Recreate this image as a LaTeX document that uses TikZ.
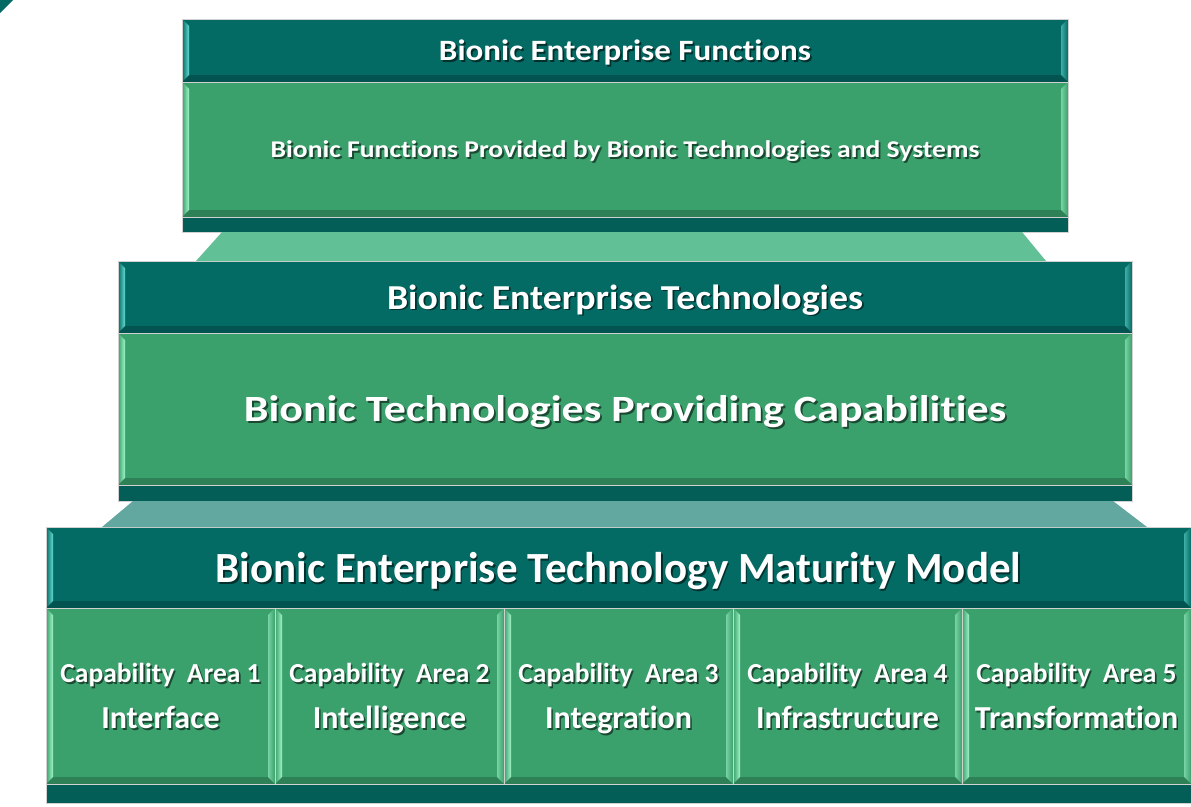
\documentclass[tikz,border=0pt]{standalone}
\usepackage{fontspec}
\usepackage{graphicx}
\setmainfont{Carlito}[Ligatures=NoCommon]
\usetikzlibrary{calc}
\usetikzlibrary{positioning}

\definecolor{tealhd}{RGB}{4,106,100}
\definecolor{tealbd}{RGB}{3,94,88}
\definecolor{greenbd}{RGB}{58,160,108}
\definecolor{mintlt}{RGB}{160,245,200}
\definecolor{cyanlt}{RGB}{100,220,210}
\definecolor{linkA}{RGB}{98,192,151}
\definecolor{linkB}{RGB}{99,168,160}

% white text with a dark copy behind it, optionally widened
\newcommand{\sh}[3][1]{\scalebox{#1}[1]{\leavevmode\rlap{\kern1.6pt\raisebox{-1.6pt}{\color{#2}#3}}#3}}

\tikzset{
  block/.style={anchor=north west, inner sep=0, outer sep=0, draw=black!18, line width=.8,
    text=white, font=\bfseries, align=center, text depth=0pt},
  bevel/.style 2 args={path picture={
    \coordinate (bl) at (path picture bounding box.south west);
    \coordinate (tr) at (path picture bounding box.north east);
    \shade[left color=#1, right color=#2] (bl|-tr) -- ($(bl|-tr)+(7pt,-7pt)$) -- ($(bl)+(7pt,7pt)$) -- (bl) -- cycle;
    \shade[left color=#2, right color=#1, opacity=.6] ($(tr)+(-7pt,-7pt)$) -- (tr) -- (bl-|tr) -- ($(bl-|tr)+(-7pt,7pt)$) -- cycle;
    \fill[black, opacity=.2] (bl) -- ($(bl)+(7pt,7pt)$) -- ($(bl-|tr)+(-7pt,7pt)$) -- (bl-|tr) -- cycle;
  }},
  head/.style={block, fill=tealhd, bevel={tealhd}{cyanlt}},
  body/.style={block, fill=greenbd, bevel={greenbd}{mintlt}},
  band/.style={block, fill=tealbd},
}

\begin{document}
\begin{tikzpicture}[x=1pt, y=-1pt]
\useasboundingbox (0,0) rectangle (1191,806);
\fill[tealhd] (0,0) -- (13,0) -- (0,13) -- cycle;

% functions
\node[head, minimum width=886, minimum height=63] (fnhead) at (182,19)
  {\fontsize{29.5}{35}\selectfont\sh[1.12]{tealhd!45!black}{Bionic Enterprise Functions}};
\node[body, minimum width=886, minimum height=135] (fnbody) at (182,82)
  {\fontsize{24}{29}\selectfont\sh[1.15]{greenbd!45!black}{Bionic Functions Provided by Bionic Technologies and Systems}};
\node[band, minimum width=886, minimum height=15] (fnband) at (182,217) {};

% technologies
\node[head, minimum width=1014, minimum height=72] (tchead) at (118,261)
  {\fontsize{35}{42}\selectfont\sh[1.08]{tealhd!45!black}{Bionic Enterprise Technologies}};
\node[body, minimum width=1014, minimum height=152] (tcbody) at (118,333)
  {\fontsize{37}{44}\selectfont\sh[1.19]{greenbd!45!black}{Bionic Technologies Providing Capabilities}};
\node[band, minimum width=1014, minimum height=16] (tcband) at (118,485) {};

\fill[linkA] ($(fnband.south west)+(40,0)$) -- ($(fnband.south east)+(-46,0)$)
  -- ($(tchead.north east)+(-86,0)$) -- ($(tchead.north west)+(78,0)$) -- cycle;

% maturity model
\node[head, minimum width=1145, minimum height=81] (mmhead) at (46,527)
  {\fontsize{43}{50}\selectfont\sh{tealhd!45!black}{Bionic Enterprise Technology Maturity Model}};

\fill[linkB] ($(tcband.south west)+(15,0)$) -- ($(tcband.south east)+(-19,0)$)
  -- ($(mmhead.north east)+(-44,0)$) -- ($(mmhead.north west)+(56,0)$) -- cycle;

\foreach \name [count=\i] in {Interface, Intelligence, Integration, Infrastructure, Transformation}
  \node[body, minimum width=229, minimum height=176, font=\bfseries\fontsize{27.5}{46}\selectfont]
    (cell\i) at ({46+229*(\i-1)},608)
    {\sh{greenbd!45!black}{Capability~~Area~\i}\\[0pt]
     \fontsize{32}{46}\selectfont\sh{greenbd!45!black}{\name}};
\node[band, minimum width=1145, minimum height=19] (mmband) at (46,784) {};

\end{tikzpicture}
\end{document}
